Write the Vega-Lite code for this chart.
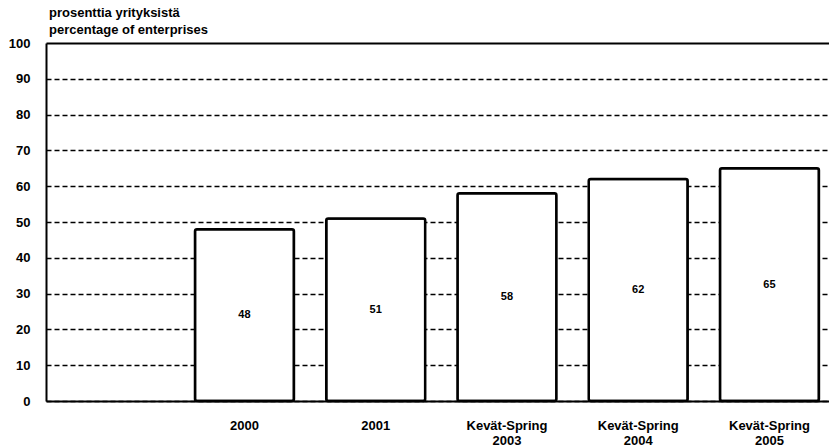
{
  "$schema": "https://vega.github.io/schema/vega-lite/v6.json",
  "width": 783,
  "height": 358,
  "autosize": "none",
  "padding": {"left": 46, "top": 43, "right": 0, "bottom": 46},
  "background": "white",
  "title": {
    "text": ["prosenttia yrityksistä", "percentage of enterprises"],
    "anchor": "start",
    "frame": "group",
    "font": "Liberation Sans",
    "fontSize": 13,
    "fontWeight": "bold",
    "color": "black",
    "offset": 0,
    "dx": 3,
    "lineHeight": 17
  },
  "config": {"view": {"stroke": null}},
  "data": {
    "values": [
      {"label": "2000", "value": 48},
      {"label": "2001", "value": 51},
      {"label": "Kevät-Spring\n2003", "value": 58},
      {"label": "Kevät-Spring\n2004", "value": 62},
      {"label": "Kevät-Spring\n2005", "value": 65}
    ]
  },
  "layer": [
    {
      "mark": {"type": "bar", "fill": "white", "stroke": "black", "strokeWidth": 2.5, "cornerRadius": 2},
      "encoding": {
        "x": {
          "field": "label",
          "type": "nominal",
          "sort": null,
          "scale": {
            "domain": ["", "2000", "2001", "Kevät-Spring\n2003", "Kevät-Spring\n2004", "Kevät-Spring\n2005"],
            "paddingInner": 0.246,
            "paddingOuter": 0.106,
            "align": 0.638
          },
          "axis": {
            "title": null,
            "labelExpr": "split(datum.label, '\\n')",
            "labelAngle": 0,
            "labelFont": "Liberation Sans",
            "labelFontSize": 13,
            "labelFontWeight": "bold",
            "labelColor": "black",
            "labelLineHeight": 15,
            "labelPadding": 18,
            "ticks": false,
            "grid": false,
            "domainColor": "black",
            "domainWidth": 2
          }
        },
        "y": {
          "field": "value",
          "type": "quantitative",
          "scale": {"domain": [0, 100], "nice": false},
          "axis": {
            "title": null,
            "values": [0, 10, 20, 30, 40, 50, 60, 70, 80, 90, 100],
            "labelFont": "Liberation Sans",
            "labelFontSize": 13,
            "labelFontWeight": "bold",
            "labelColor": "black",
            "labelPadding": 16,
            "ticks": false,
            "domainColor": "black",
            "domainWidth": 2,
            "grid": true,
            "gridColor": "black",
            "gridOpacity": 1,
            "gridWidth": {"condition": {"test": "datum.value === 100", "value": 2}, "value": 1.3},
            "gridDash": {"condition": {"test": "datum.value === 100", "value": []}, "value": [5, 3]}
          }
        }
      }
    },
    {
      "mark": {"type": "text", "font": "Liberation Sans", "fontSize": 11, "fontWeight": "bold", "color": "black", "baseline": "middle"},
      "encoding": {
        "x": {"field": "label", "type": "nominal", "sort": null},
        "y": {"field": "value", "type": "quantitative", "scale": {"domain": [0, 200], "nice": false}, "axis": null},
        "text": {"field": "value", "type": "quantitative"}
      }
    }
  ],
  "resolve": {"scale": {"y": "independent"}}
}
